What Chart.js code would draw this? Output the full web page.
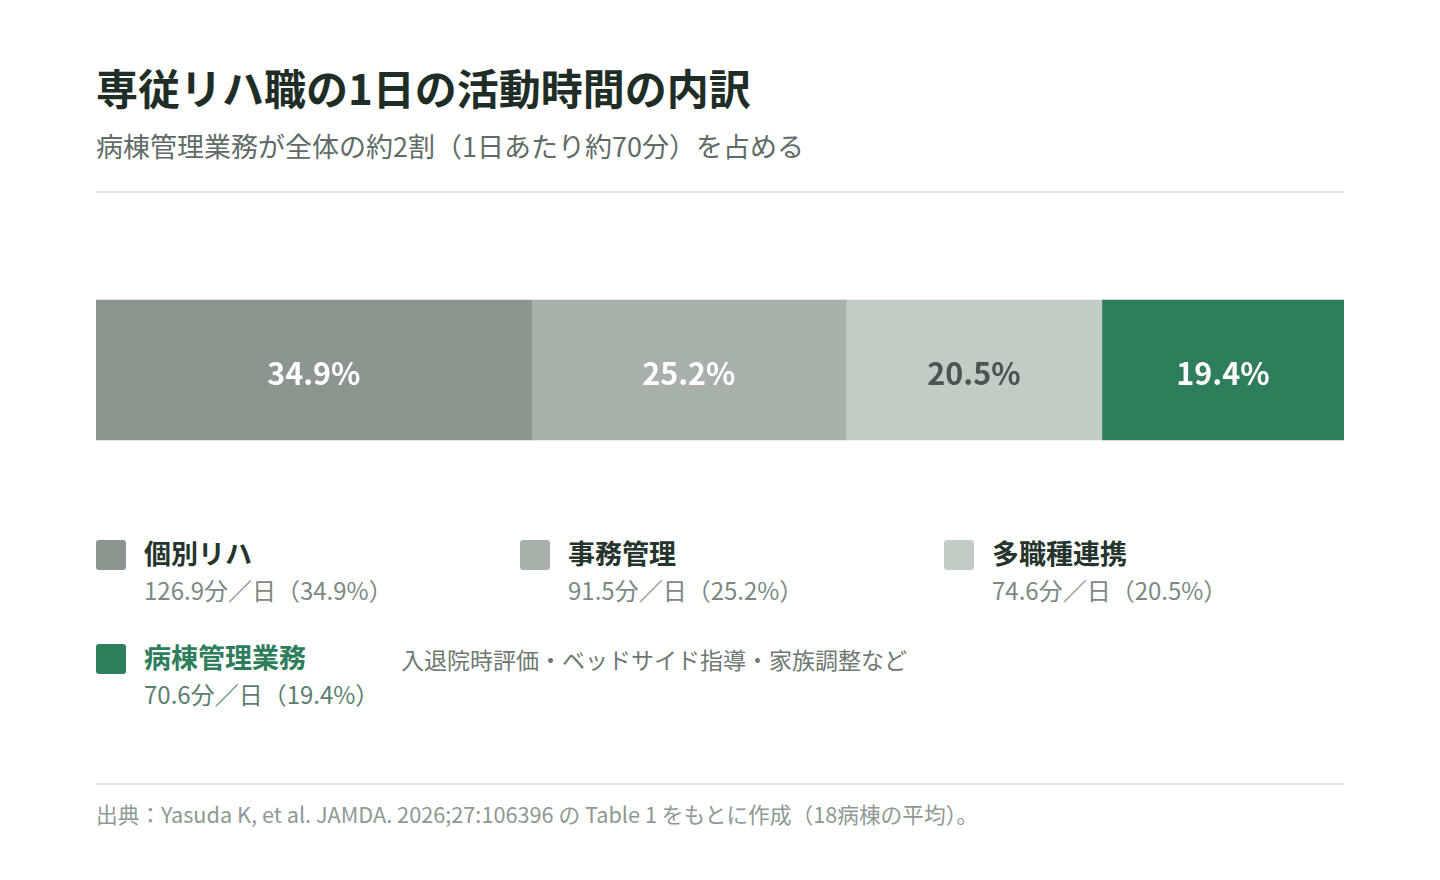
<!DOCTYPE html>
<html lang="ja">
<head>
<meta charset="utf-8">
<script src="https://cdn.jsdelivr.net/npm/chart.js@4"></script>
<style>
  html, body { margin: 0; padding: 0; background: #ffffff; }
  body { width: 1440px; height: 880px; position: relative; overflow: hidden;
         font-family: "Noto Sans CJK JP", "Noto Sans", sans-serif; }
  .abs { position: absolute; white-space: nowrap; }
  #title { left: 96px; top: 66px; font-size: 42px; line-height: 42px; font-weight: 700; color: #1f2d27; }
  #subtitle { left: 96px; top: 132px; font-size: 27px; line-height: 27px; color: #5f6b66; }
  .rule { position: absolute; left: 96px; width: 1248px; height: 2px; background: #e1e5e3; }
  #chartWrap { position: absolute; left: 96px; top: 230px; width: 1248px; height: 280px; }
  .swatch { position: absolute; width: 30px; height: 30px; border-radius: 3px; }
  .lbl { font-size: 27px; line-height: 27px; font-weight: 700; color: #25342d; }
  .val { font-size: 24px; line-height: 24px; color: #7d8883; }
  .desc { font-size: 23px; line-height: 23px; color: #6e7873; }
  #source { left: 96px; top: 803px; font-size: 21.7px; line-height: 22px; color: #8e9894; }
</style>
</head>
<body>
<div id="title" class="abs">専従リハ職の1日の活動時間の内訳</div>
<div id="subtitle" class="abs">病棟管理業務が全体の約2割（1日あたり約70分）を占める</div>
<div class="rule" style="top:191px"></div>
<div id="chartWrap"><canvas id="c"></canvas></div>
<div id="legend"></div>
<div class="rule" style="top:783px"></div>
<div id="source" class="abs">出典：Yasuda K, et al. JAMDA. 2026;27:106396 の Table 1 をもとに作成（18病棟の平均）。</div>
<script>
const categories = ['個別リハ', '事務管理', '多職種連携', '病棟管理業務'];
const minutesPerDay = [126.9, 91.5, 74.6, 70.6];
const percents = [34.9, 25.2, 20.5, 19.4];
const notes = ['', '', '', '入退院時評価・ベッドサイド指導・家族調整など'];
const barColors = ['#8a968e', '#a8b1a9', '#c3ccc4', '#2e7d5b'];
const labelColors = ['#ffffff', '#ffffff', '#4a5550', '#ffffff'];

const datasets = categories.map((name, i) => ({
  label: name,
  data: [percents[i]],
  backgroundColor: barColors[i],
  borderWidth: 0,
  barThickness: 140
}));

const segLabels = {
  id: 'segLabels',
  afterDatasetsDraw(chart) {
    const ctx = chart.ctx;
    ctx.save();
    ctx.font = '700 30.5px "Noto Sans CJK JP", sans-serif';
    ctx.textAlign = 'center';
    ctx.textBaseline = 'middle';
    chart.data.datasets.forEach((ds, i) => {
      const meta = chart.getDatasetMeta(i);
      meta.data.forEach(bar => {
        const cx = (bar.x + bar.base) / 2;
        ctx.fillStyle = labelColors[i];
        ctx.fillText(percents[i].toFixed(1) + '%', cx, bar.y + 3);
      });
    });
    ctx.restore();
  }
};

new Chart(document.getElementById('c'), {
  type: 'bar',
  data: { labels: [''], datasets },
  options: {
    indexAxis: 'y',
    responsive: true,
    maintainAspectRatio: false,
    animation: false,
    layout: { padding: 0 },
    plugins: { legend: { display: false }, tooltip: { enabled: false } },
    scales: {
      x: { stacked: true, min: 0, max: 100, display: false },
      y: { stacked: true, display: false }
    }
  },
  plugins: [segLabels]
});

// HTML legend built from the data arrays
const legend = document.getElementById('legend');
const colX = [96, 520, 944];
const rowY = [540, 644];
categories.forEach((name, i) => {
  const col = i < 3 ? i : 0;
  const row = i < 3 ? 0 : 1;
  const x = colX[col], y = rowY[row];
  const sw = document.createElement('div');
  sw.className = 'swatch';
  sw.style.left = x + 'px'; sw.style.top = y + 'px';
  sw.style.background = barColors[i];
  legend.appendChild(sw);
  const lb = document.createElement('div');
  lb.className = 'abs lbl';
  lb.style.left = (x + 48) + 'px'; lb.style.top = (y - 1) + 'px';
  lb.textContent = name;
  if (i === 3) lb.style.color = '#2e7d5b';
  legend.appendChild(lb);
  const vl = document.createElement('div');
  vl.className = 'abs val';
  vl.style.left = (x + 48) + 'px'; vl.style.top = (y + 38) + 'px';
  vl.textContent = minutesPerDay[i].toFixed(1) + '分／日（' + percents[i].toFixed(1) + '%）';
  if (i === 3) vl.style.color = '#5b7f6e';
  legend.appendChild(vl);
  if (notes[i]) {
    const nt = document.createElement('div');
    nt.className = 'abs desc';
    nt.style.left = '401px'; nt.style.top = (y + 4) + 'px';
    nt.textContent = notes[i];
    legend.appendChild(nt);
  }
});
</script>
</body>
</html>
